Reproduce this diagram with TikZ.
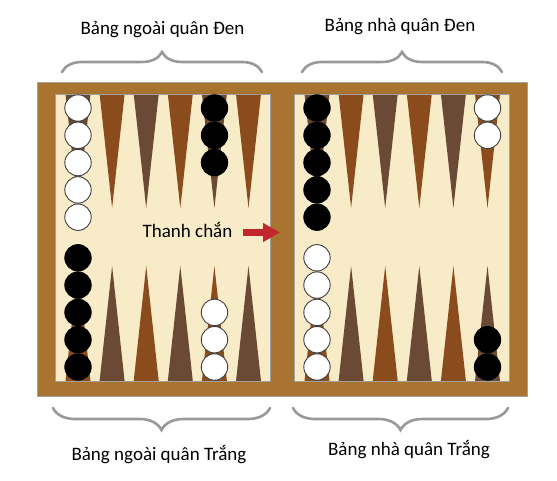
\documentclass[tikz,border=0pt]{standalone}
\usepackage{fontspec}
\setmainfont{Carlito}
\usetikzlibrary{decorations.pathreplacing,arrows.meta}
\definecolor{boardframe}{HTML}{A8742F}
\definecolor{felt}{HTML}{F8EBC8}
\definecolor{ptlight}{HTML}{8A4C1D}
\definecolor{ptdark}{HTML}{6A4A35}
\definecolor{arrowred}{HTML}{C1272D}
\definecolor{edgegray}{HTML}{A0A0A0}
\begin{document}
\begin{tikzpicture}[x=1pt,y=-1pt,
  lbl/.style={anchor=base,inner sep=0pt,font=\fontsize{19}{23}\selectfont},
  whitechk/.style={circle,inner sep=0pt,minimum size=26.4pt,fill=white,draw=black!75,line width=0.9pt},
  blackchk/.style={circle,inner sep=0pt,minimum size=26.4pt,fill=black,draw=black,line width=0.9pt},
  bracestyle/.style={draw=black!40,line width=2.6pt,line cap=round,decorate},
  panel/.style={draw=edgegray,line width=0.9pt}]
\useasboundingbox (0,0) rectangle (557,481);
\fill[white] (0,0) rectangle (557,481);
% board
\draw[panel,fill=boardframe] (37,82) rectangle (527,396);
\fill[felt] (55,94) rectangle (270,381);
\fill[felt] (294,94) rectangle (509,381);
% points
\foreach \base in {78,317}{
  \foreach \k in {0,...,5}{
    \pgfmathsetmacro\cx{\base+34.1*\k}
    \ifodd\k \def\ct{ptlight}\def\cb{ptdark}\else\def\ct{ptdark}\def\cb{ptlight}\fi
    \fill[\ct] (\cx-12.5,94) -- (\cx,208) -- (\cx+12.5,94) -- cycle;
    \fill[\cb] (\cx-12.5,381) -- (\cx,266) -- (\cx+12.5,381) -- cycle;
  }
}
\draw[panel] (55,94) rectangle (270,381);
\draw[panel] (294,94) rectangle (509,381);
% checkers
\foreach \k in {0,...,4}{
  \node[whitechk] (lwt\k) at (78,108+27.3*\k) {};
  \node[blackchk] (lbb\k) at (78,367-27.3*\k) {};
  \node[blackchk] (rbt\k) at (317,108+27.3*\k) {};
  \node[whitechk] (rwb\k) at (317,367-27.3*\k) {};
}
\foreach \k in {0,...,2}{
  \node[blackchk] (lbt\k) at (214.5,108+27.3*\k) {};
  \node[whitechk] (lwb\k) at (214.5,367-27.3*\k) {};
}
\foreach \k in {0,...,1}{
  \node[whitechk] (rwt\k) at (487.5,108+27.3*\k) {};
  \node[blackchk] (rbb\k) at (487.5,367-27.3*\k) {};
}
% bar label and arrow
\node[lbl] (bar) at (187.5,238) {Thanh chắn};
\coordinate (arrs) at (243,232.5);
\coordinate (arre) at (280,232.5);
\draw[arrowred,line width=7pt,-{Triangle[width=18pt,length=17pt]}] (arrs) -- (arre);
% braces
\draw[bracestyle,decoration={brace,amplitude=20pt}] (62,72) -- (262,72);
\draw[bracestyle,decoration={brace,amplitude=20pt}] (302,72) -- (502,72);
\draw[bracestyle,decoration={brace,amplitude=22pt}] (270,408) -- (53,408);
\draw[bracestyle,decoration={brace,amplitude=22pt}] (508,408) -- (293,408);
% labels
\node[lbl] (tl) at (162.5,35) {Bảng ngoài quân Đen};
\node[lbl] (tr) at (400,32) {Bảng nhà quân Đen};
\node[lbl] (bl) at (159,460) {Bảng ngoài quân Trắng};
\node[lbl] (br) at (409,455) {Bảng nhà quân Trắng};
\end{tikzpicture}
\end{document}
